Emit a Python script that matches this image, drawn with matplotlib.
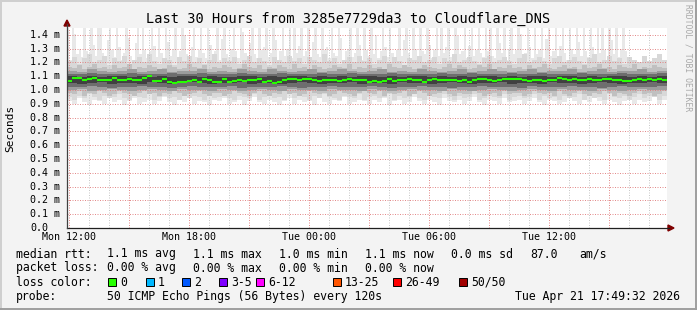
import numpy as np
import matplotlib
matplotlib.use("Agg")
import matplotlib.pyplot as plt
import matplotlib.dates as mdates
from matplotlib.patches import Polygon, Rectangle
from matplotlib.lines import Line2D

# ---- data (ms) ----
title = "Last 30 Hours from 3285e7729da3 to Cloudflare_DNS"
start = np.datetime64("2026-04-20T11:53")
end = np.datetime64("2026-04-21T17:53")

# median rtt, one value per 15 min
median = [1.065, 1.085, 1.09, 1.072, 1.08, 1.085, 1.072, 1.072, 1.07, 1.088,
          1.072, 1.076, 1.083, 1.072, 1.072, 1.09, 1.10, 1.065, 1.066, 1.08,
          1.056, 1.05, 1.056, 1.058, 1.064, 1.072, 1.06, 1.078, 1.072, 1.062,
          1.06, 1.08, 1.056, 1.065, 1.072, 1.066, 1.072, 1.072, 1.083, 1.06,
          1.066, 1.05, 1.06, 1.072, 1.083, 1.083, 1.072, 1.083, 1.08, 1.07,
          1.066, 1.07, 1.07, 1.07, 1.066, 1.072, 1.083, 1.072, 1.072, 1.072,
          1.062, 1.066, 1.062, 1.066, 1.078, 1.066, 1.07, 1.07, 1.083, 1.07,
          1.07, 1.062, 1.07, 1.08, 1.07, 1.07, 1.07, 1.07, 1.066, 1.074,
          1.062, 1.07, 1.08, 1.08, 1.075, 1.066, 1.072, 1.077, 1.08, 1.083,
          1.08, 1.07, 1.066, 1.072, 1.072, 1.066, 1.07, 1.07, 1.086, 1.08,
          1.07, 1.08, 1.075, 1.075, 1.08, 1.072, 1.07, 1.082, 1.083, 1.075,
          1.072, 1.066, 1.066, 1.07, 1.08, 1.07, 1.083, 1.07, 1.08, 1.072]

# slowest ping per 7.5 min (light streaks, clipped at the top)
smoke_max = [1.45, 1.22, 1.45, 1.41, 1.26, 1.30, 1.24, 1.45, 1.28, 1.21, 1.45, 1.33, 1.25, 1.45, 1.45, 1.27, 1.23, 1.36, 1.45, 1.29,
             1.24, 1.45, 1.31, 1.22, 1.27, 1.45, 1.38, 1.25, 1.21, 1.34, 1.45, 1.26, 1.45, 1.29, 1.23, 1.28, 1.45, 1.32, 1.24, 1.45,
             1.27, 1.22, 1.45, 1.35, 1.25, 1.30, 1.45, 1.23, 1.28, 1.45, 1.40, 1.26, 1.22, 1.31, 1.45, 1.24, 1.29, 1.45, 1.27, 1.23,
             1.45, 1.33, 1.25, 1.28, 1.45, 1.22, 1.37, 1.45, 1.26, 1.24, 1.30, 1.45, 1.28, 1.23, 1.45, 1.42, 1.27, 1.25, 1.34, 1.45,
             1.26, 1.23, 1.45, 1.29, 1.31, 1.45, 1.24, 1.27, 1.45, 1.36, 1.22, 1.28, 1.45, 1.25, 1.30, 1.45, 1.23, 1.45, 1.27, 1.32,
             1.45, 1.25, 1.28, 1.45, 1.22, 1.35, 1.45, 1.26, 1.24, 1.45, 1.29, 1.31, 1.23, 1.45, 1.27, 1.25, 1.45, 1.38, 1.22, 1.28,
             1.30, 1.45, 1.24, 1.27, 1.45, 1.33, 1.22, 1.45, 1.29, 1.25, 1.45, 1.26, 1.40, 1.23, 1.28, 1.45, 1.31, 1.24, 1.45, 1.27,
             1.23, 1.29, 1.45, 1.25, 1.36, 1.45, 1.27, 1.22, 1.45, 1.30, 1.24, 1.45, 1.28, 1.26, 1.45, 1.33, 1.23, 1.29, 1.45, 1.25,
             1.45, 1.27, 1.31, 1.45, 1.24, 1.22, 1.45, 1.39, 1.26, 1.28, 1.45, 1.23, 1.32, 1.45, 1.25, 1.29, 1.45, 1.27, 1.24, 1.45,
             1.28, 1.45, 1.25, 1.23, 1.45, 1.34, 1.27, 1.45, 1.22, 1.30, 1.45, 1.26, 1.29, 1.45, 1.41, 1.24, 1.27, 1.45, 1.31, 1.23,
             1.45, 1.26, 1.29, 1.45, 1.23, 1.37, 1.45, 1.25, 1.28, 1.45, 1.24, 1.32, 1.45, 1.27, 1.22, 1.45, 1.30, 1.26, 1.45, 1.35,
             1.25, 1.45, 1.28, 1.24, 1.45, 1.31, 1.23, 1.45, 1.27, 1.45, 1.29, 1.22, 1.45, 1.36, 1.26, 1.45, 1.24, 1.30, 1.45, 1.28]
# fastest ping per 15 min
smoke_min = [0.92, 0.90, 0.94, 0.91, 0.89, 0.93, 0.92, 0.90, 0.95, 0.91,
             0.93, 0.89, 0.92, 0.94, 0.90, 0.91, 0.93, 0.90, 0.92, 0.95,
             0.91, 0.89, 0.93, 0.91, 0.94, 0.90, 0.92, 0.91, 0.89, 0.93,
             0.92, 0.94, 0.90, 0.91, 0.93, 0.89, 0.92, 0.95, 0.91, 0.90,
             0.93, 0.91, 0.89, 0.92, 0.94, 0.90, 0.93, 0.91, 0.92, 0.89,
             0.94, 0.91, 0.90, 0.93, 0.92, 0.95, 0.90, 0.91, 0.93, 0.92,
             0.90, 0.93, 0.91, 0.94, 0.89, 0.92, 0.93, 0.90, 0.91, 0.95,
             0.92, 0.90, 0.93, 0.91, 0.89, 0.94, 0.92, 0.91, 0.93, 0.90,
             0.92, 0.95, 0.91, 0.89, 0.93, 0.92, 0.90, 0.94, 0.91, 0.92,
             0.93, 0.90, 0.92, 0.94, 0.91, 0.89, 0.93, 0.92, 0.90, 0.91,
             0.94, 0.92, 0.90, 0.93, 0.91, 0.95, 0.92, 0.90, 0.93, 0.91,
             0.89, 0.92, 0.94, 0.90, 0.93, 0.91, 0.92, 0.95, 0.90, 0.93]

# outer smoke band, per 15 min
smoke_hi1 = [1.21, 1.24, 1.19, 1.23, 1.26, 1.20, 1.22, 1.25, 1.18, 1.23,
             1.21, 1.25, 1.19, 1.22, 1.24, 1.20, 1.26, 1.21, 1.19, 1.23,
             1.22, 1.18, 1.24, 1.21, 1.25, 1.20, 1.23, 1.19, 1.22, 1.26,
             1.20, 1.23, 1.21, 1.24, 1.19, 1.22, 1.25, 1.20, 1.23, 1.21,
             1.18, 1.24, 1.22, 1.20, 1.25, 1.21, 1.23, 1.19, 1.24, 1.22,
             1.20, 1.26, 1.21, 1.23, 1.19, 1.22, 1.24, 1.20, 1.25, 1.21,
             1.23, 1.19, 1.22, 1.25, 1.20, 1.24, 1.21, 1.18, 1.23, 1.22,
             1.25, 1.20, 1.22, 1.24, 1.19, 1.23, 1.21, 1.26, 1.20, 1.22,
             1.24, 1.21, 1.19, 1.23, 1.25, 1.20, 1.22, 1.24, 1.21, 1.19,
             1.23, 1.26, 1.20, 1.22, 1.24, 1.21, 1.19, 1.23, 1.25, 1.20,
             1.22, 1.24, 1.21, 1.19, 1.23, 1.26, 1.20, 1.22, 1.25, 1.21,
             1.23, 1.19, 1.24, 1.22, 1.20, 1.25, 1.21, 1.23, 1.26, 1.22]
smoke_lo1 = [0.95, 0.93, 0.96, 0.94, 0.97, 0.95, 0.93, 0.96, 0.94, 0.95,
             0.97, 0.94, 0.93, 0.96, 0.95, 0.94, 0.97, 0.93, 0.95, 0.96,
             0.94, 0.95, 0.93, 0.97, 0.94, 0.96, 0.95, 0.93, 0.96, 0.94,
             0.95, 0.97, 0.94, 0.93, 0.96, 0.95, 0.94, 0.97, 0.93, 0.95,
             0.96, 0.94, 0.95, 0.93, 0.97, 0.94, 0.96, 0.95, 0.93, 0.96,
             0.94, 0.97, 0.95, 0.94, 0.93, 0.96, 0.95, 0.94, 0.97, 0.93,
             0.95, 0.96, 0.94, 0.95, 0.97, 0.93, 0.96, 0.94, 0.95, 0.97,
             0.94, 0.93, 0.96, 0.95, 0.94, 0.97, 0.95, 0.93, 0.96, 0.94,
             0.95, 0.97, 0.93, 0.94, 0.96, 0.95, 0.94, 0.97, 0.93, 0.95,
             0.96, 0.94, 0.95, 0.97, 0.93, 0.96, 0.94, 0.95, 0.93, 0.96,
             0.94, 0.95, 0.97, 0.93, 0.96, 0.94, 0.95, 0.93, 0.97, 0.95,
             0.94, 0.96, 0.93, 0.95, 0.97, 0.94, 0.96, 0.95, 0.93, 0.96]

# middle smoke band, per 15 min
smoke_hi2 = [1.17, 1.16, 1.18, 1.15, 1.17, 1.19, 1.16, 1.17, 1.15, 1.18,
             1.16, 1.17, 1.19, 1.15, 1.17, 1.16, 1.18, 1.17, 1.15, 1.16,
             1.18, 1.17, 1.15, 1.16, 1.19, 1.17, 1.16, 1.18, 1.15, 1.17,
             1.16, 1.18, 1.17, 1.15, 1.16, 1.19, 1.17, 1.16, 1.18, 1.15,
             1.17, 1.16, 1.18, 1.17, 1.15, 1.19, 1.16, 1.17, 1.15, 1.18,
             1.17, 1.15, 1.16, 1.18, 1.17, 1.16, 1.19, 1.15, 1.17, 1.16,
             1.18, 1.16, 1.17, 1.15, 1.19, 1.17, 1.16, 1.18, 1.17, 1.15,
             1.16, 1.18, 1.17, 1.16, 1.15, 1.17, 1.19, 1.16, 1.18, 1.17,
             1.15, 1.16, 1.18, 1.17, 1.19, 1.15, 1.17, 1.16, 1.18, 1.16,
             1.17, 1.15, 1.18, 1.16, 1.17, 1.19, 1.16, 1.15, 1.17, 1.18,
             1.16, 1.17, 1.15, 1.18, 1.16, 1.17, 1.19, 1.16, 1.17, 1.15,
             1.18, 1.17, 1.16, 1.19, 1.15, 1.17, 1.16, 1.18, 1.17, 1.16]
smoke_lo2 = [0.98, 0.97, 0.99, 0.96, 0.98, 0.97, 0.99, 0.98, 0.96, 0.97,
             0.99, 0.98, 0.97, 0.96, 0.98, 0.99, 0.97, 0.98, 0.96, 0.98,
             0.97, 0.99, 0.98, 0.96, 0.97, 0.98, 0.99, 0.97, 0.96, 0.98,
             0.98, 0.96, 0.97, 0.99, 0.98, 0.97, 0.96, 0.98, 0.99, 0.97,
             0.96, 0.98, 0.97, 0.99, 0.97, 0.98, 0.96, 0.97, 0.99, 0.98,
             0.97, 0.98, 0.96, 0.97, 0.99, 0.98, 0.97, 0.96, 0.98, 0.99,
             0.98, 0.97, 0.99, 0.96, 0.98, 0.97, 0.98, 0.99, 0.96, 0.97,
             0.99, 0.98, 0.96, 0.97, 0.98, 0.99, 0.97, 0.96, 0.98, 0.97,
             0.97, 0.99, 0.98, 0.96, 0.97, 0.98, 0.96, 0.99, 0.97, 0.98,
             0.98, 0.96, 0.97, 0.99, 0.98, 0.97, 0.98, 0.96, 0.99, 0.97,
             0.96, 0.98, 0.99, 0.97, 0.96, 0.98, 0.97, 0.99, 0.98, 0.96,
             0.98, 0.97, 0.96, 0.98, 0.99, 0.97, 0.98, 0.96, 0.97, 0.99]

# inner smoke bands, per 30 min
smoke_hi3 = [1.14, 1.13, 1.15, 1.14, 1.13, 1.14, 1.15, 1.13, 1.14, 1.15,
             1.13, 1.14, 1.14, 1.15, 1.13, 1.14, 1.13, 1.15, 1.14, 1.13,
             1.15, 1.14, 1.13, 1.14, 1.15, 1.13, 1.14, 1.15, 1.14, 1.13,
             1.14, 1.15, 1.13, 1.14, 1.13, 1.15, 1.14, 1.13, 1.14, 1.15,
             1.13, 1.14, 1.15, 1.14, 1.13, 1.14, 1.15, 1.13, 1.14, 1.14,
             1.15, 1.13, 1.14, 1.15, 1.13, 1.14, 1.14, 1.15, 1.13, 1.14]
smoke_lo3 = [1.00, 1.01, 0.99, 1.00, 1.01, 1.00, 0.99, 1.00, 1.01, 1.00,
             0.99, 1.01, 1.00, 1.00, 0.99, 1.01, 1.00, 0.99, 1.00, 1.01,
             1.00, 0.99, 1.01, 1.00, 1.00, 0.99, 1.01, 1.00, 1.00, 0.99,
             1.01, 1.00, 0.99, 1.00, 1.01, 1.00, 1.00, 0.99, 1.01, 1.00,
             0.99, 1.00, 1.01, 1.00, 0.99, 1.00, 1.01, 1.00, 0.99, 1.01,
             1.00, 1.00, 0.99, 1.01, 1.00, 0.99, 1.00, 1.01, 1.00, 1.00]
smoke_hi4 = [1.12, 1.115, 1.125, 1.12, 1.115, 1.12, 1.125, 1.115, 1.12, 1.12,
             1.125, 1.115, 1.12, 1.125, 1.12, 1.115, 1.12, 1.125, 1.12, 1.115,
             1.12, 1.125, 1.115, 1.12, 1.12, 1.125, 1.115, 1.12, 1.125, 1.12,
             1.115, 1.12, 1.125, 1.12, 1.115, 1.12, 1.12, 1.125, 1.115, 1.12,
             1.125, 1.12, 1.115, 1.12, 1.125, 1.12, 1.115, 1.125, 1.12, 1.12,
             1.115, 1.125, 1.12, 1.115, 1.12, 1.125, 1.12, 1.115, 1.12, 1.125]
smoke_lo4 = [1.025, 1.02, 1.03, 1.025, 1.015, 1.025, 1.02, 1.03, 1.025, 1.02,
             1.015, 1.025, 1.03, 1.02, 1.025, 1.02, 1.03, 1.015, 1.025, 1.02,
             1.025, 1.03, 1.02, 1.015, 1.025, 1.02, 1.03, 1.025, 1.02, 1.025,
             1.03, 1.02, 1.015, 1.025, 1.02, 1.03, 1.025, 1.02, 1.015, 1.025,
             1.02, 1.03, 1.025, 1.02, 1.025, 1.015, 1.03, 1.02, 1.025, 1.02,
             1.03, 1.025, 1.02, 1.015, 1.025, 1.03, 1.02, 1.025, 1.02, 1.03]
smoke_hi5 = [1.10, 1.095, 1.10, 1.095, 1.10, 1.10, 1.095, 1.10, 1.095, 1.10,
             1.095, 1.10, 1.10, 1.095, 1.10, 1.095, 1.095, 1.10, 1.10, 1.095,
             1.10, 1.095, 1.10, 1.10, 1.095, 1.10, 1.095, 1.10, 1.095, 1.10,
             1.10, 1.095, 1.10, 1.095, 1.10, 1.10, 1.095, 1.10, 1.095, 1.10,
             1.095, 1.10, 1.10, 1.095, 1.10, 1.095, 1.10, 1.10, 1.095, 1.10,
             1.10, 1.095, 1.10, 1.095, 1.10, 1.10, 1.095, 1.10, 1.095, 1.10]
smoke_lo5 = [1.05, 1.045, 1.05, 1.055, 1.045, 1.05, 1.05, 1.045, 1.055, 1.05,
             1.045, 1.05, 1.055, 1.05, 1.045, 1.05, 1.05, 1.055, 1.045, 1.05,
             1.05, 1.045, 1.05, 1.055, 1.05, 1.045, 1.05, 1.05, 1.055, 1.045,
             1.05, 1.05, 1.045, 1.055, 1.05, 1.05, 1.045, 1.05, 1.055, 1.05,
             1.045, 1.05, 1.05, 1.055, 1.045, 1.05, 1.05, 1.045, 1.055, 1.05,
             1.05, 1.045, 1.05, 1.055, 1.05, 1.045, 1.05, 1.05, 1.055, 1.05]

ytick_vals = [0.0, 0.1, 0.2, 0.3, 0.4, 0.5, 0.6, 0.7, 0.8, 0.9, 1.0, 1.1, 1.2, 1.3, 1.4]
ytick_labels = ["0.0"] + ["%.1f m" % v for v in ytick_vals[1:]]
xtick_times = ["2026-04-20T12:00", "2026-04-20T18:00", "2026-04-21T00:00",
               "2026-04-21T06:00", "2026-04-21T12:00"]
xtick_labels = ["Mon 12:00", "Mon 18:00", "Tue 00:00", "Tue 06:00", "Tue 12:00"]

legend_rows = [
    ["median rtt:", "1.1 ms avg", "1.1 ms max", "1.0 ms min", "1.1 ms now", "0.0 ms sd", "87.0", "am/s"],
    ["packet loss:", "0.00 % avg", "0.00 % max", "0.00 % min", "0.00 % now"],
]
legend_x = [16, 107, 193, 279, 365, 451, 530, 579]
loss_labels = ["0", "1", "2", "3-5", "6-12", "13-25", "26-49", "50/50"]
loss_colors = ["#26ff00", "#00b8ff", "#0059ff", "#7e00ff", "#ff00ff", "#ff5500", "#ff0000", "#a10000"]
loss_box_x = [108, 146, 182, 219, 256, 333, 393, 459]
probe_text = "50 ICMP Echo Pings (56 Bytes) every 120s"
stamp = "Tue Apr 21 17:49:32 2026"

# ---- figure ----
W, H = 697, 310
BG = "#f3f3f3"
mono = "DejaVu Sans Mono"
fig = plt.figure(figsize=(W / 100, H / 100), dpi=100, facecolor=BG)


def fx(x):
    return x / W


def fy(y):
    return 1 - y / H


ax = fig.add_axes([fx(67), fy(228), 600 / W, 200 / H])
ax.set_facecolor("white")
for s in ax.spines.values():
    s.set_visible(False)
ax.set_xlim(mdates.date2num(start), mdates.date2num(end))
ax.set_ylim(0, 1.45)
ax.set_xticks([])
ax.set_yticks([])


def edges(n):
    step = (end - start) / n
    return mdates.date2num(start + step * np.arange(n + 1))


def band(lo, hi, color, z):
    lo = np.asarray(lo, float)
    hi = np.asarray(hi, float)
    e = edges(len(lo))
    ax.fill_between(e, np.append(lo, lo[-1]), np.append(hi, hi[-1]),
                    step="post", color=color, lw=0, zorder=z)


def half(vals, base, color, z):
    vals = np.asarray(vals, float)
    e = edges(len(vals))
    ax.fill_between(e, base, np.append(vals, vals[-1]), step="post",
                    color=color, lw=0, zorder=z)


# outermost smoke: streaks above, fastest pings below
half(smoke_max, 1.075, "#e8e8e8", 1)
half(smoke_min, 1.075, "#e8e8e8", 1)
band(smoke_lo1, smoke_hi1, "#d8d8d8", 2)
band(smoke_lo2, smoke_hi2, "#c0c0c0", 3)

# grid
hour = np.timedelta64(1, "h")
first = np.datetime64("2026-04-20T12:00")
for k in range(30):
    t = mdates.date2num(first + k * hour)
    major = k % 3 == 0
    ax.axvline(t, color="#e08080" if major else "#c4c4c4", lw=0.72,
               dashes=(1, 1.5), zorder=3.5, alpha=0.9)
for v in ytick_vals[1:]:
    ax.axhline(v, color="#e08080", lw=0.72, dashes=(1, 1.5), zorder=3.5, alpha=0.9)

band(smoke_lo3, smoke_hi3, "#9c9c9c", 4)
band(smoke_lo4, smoke_hi4, "#6e6e6e", 5)
band(smoke_lo5, smoke_hi5, "#404040", 6)

e = edges(len(median))
ax.hlines(median, e[:-1], e[1:], color="#26ff00", lw=1.5, zorder=7)

# y labels
for v, lbl in zip(ytick_vals, ytick_labels):
    ax.text((30 - 67) / 600, v, lbl, transform=ax.get_yaxis_transform(),
            ha="left", va="center", fontsize=7.2, family=mono)
# x labels
for t, lbl in zip(xtick_times, xtick_labels):
    ax.text(mdates.date2num(np.datetime64(t)), -9.3 / 200, lbl,
            transform=ax.get_xaxis_transform(), ha="center", va="center",
            fontsize=7.2, family=mono)

# axes lines and arrows
fig.add_artist(Line2D([fx(67), fx(669)], [fy(228), fy(228)], color="#202020", lw=0.9))
fig.add_artist(Line2D([fx(67), fx(67)], [fy(228), fy(24)], color="#404040", lw=0.9))
fig.add_artist(Polygon([(fx(668), fy(225)), (fx(674), fy(228)), (fx(668), fy(231))],
                       closed=True, color="#7f0000", transform=fig.transFigure))
fig.add_artist(Polygon([(fx(64), fy(26)), (fx(67), fy(20)), (fx(70), fy(26))],
                       closed=True, color="#7f0000", transform=fig.transFigure))

# titles
fig.text(fx(348), fy(19), title, ha="center", va="center", fontsize=9.8, family=mono)
fig.text(fx(10), fy(128), "Seconds", rotation=90, ha="center", va="center",
         fontsize=8, family=mono)
fig.text(fx(688), fy(58), "RRDTOOL / TOBI OETIKER", rotation=270, ha="center",
         va="center", fontsize=5.8, family=mono, color="#a8a8a8")

# legend
row_y = [254, 268, 282, 296.5]
for r, row in enumerate(legend_rows):
    for x, txt in zip(legend_x, row):
        fig.text(fx(x), fy(row_y[r]), txt, ha="left", va="center", fontsize=8.3, family=mono)
fig.text(fx(16), fy(row_y[2]), "loss color:", ha="left", va="center", fontsize=8.3, family=mono)
for x, c, lbl in zip(loss_box_x, loss_colors, loss_labels):
    fig.add_artist(Rectangle((fx(x), fy(row_y[2] + 4)), 8 / W, 8 / H, transform=fig.transFigure,
                             facecolor=c, edgecolor="black", lw=0.7))
    fig.text(fx(x + 12), fy(row_y[2]), lbl, ha="left", va="center", fontsize=8.3, family=mono)
fig.text(fx(16), fy(row_y[3]), "probe:", ha="left", va="center", fontsize=8.3, family=mono)
fig.text(fx(107), fy(row_y[3]), probe_text, ha="left", va="center", fontsize=8.3, family=mono)
fig.text(fx(680), fy(row_y[3]), stamp, ha="right", va="center", fontsize=8.3, family=mono)

# frame
fig.add_artist(Line2D([0, 1], [fy(0.5), fy(0.5)], color="#cfcfcf", lw=1.4))
fig.add_artist(Line2D([fx(0.5), fx(0.5)], [0, 1], color="#cfcfcf", lw=1.4))
fig.add_artist(Line2D([fx(696), fx(696)], [0, 1], color="#9e9e9e", lw=1.4))
fig.add_artist(Line2D([0, 1], [fy(309), fy(309)], color="#9e9e9e", lw=1.4))

fig.savefig("out.png", dpi=100, facecolor=BG)
